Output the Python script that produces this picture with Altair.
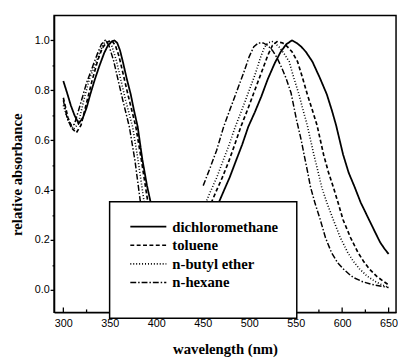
import altair as alt
import pandas as pd

solvents = ["dichloromethane", "toluene", "n-butyl ether", "n-hexane"]

# dichloromethane
dcm_b1_x = [300, 304, 308, 312, 316.5, 321, 325, 329, 334, 339, 344, 348, 352, 355, 358, 361, 364, 368, 372.5, 376, 380, 385, 390, 394]
dcm_b1_y = [0.837, 0.79, 0.74, 0.70, 0.667, 0.69, 0.73, 0.784, 0.845, 0.9, 0.95, 0.98, 0.996, 1.0, 0.99, 0.96, 0.915, 0.85, 0.784, 0.72, 0.654, 0.523, 0.418, 0.35]
dcm_b2_x = [467, 473, 479, 486, 492.5, 499, 506, 513, 520, 527.5, 534, 540, 546, 551, 556, 561, 568, 576, 583.5, 589, 593.5, 601, 607, 613.5, 620, 629, 635, 641, 646, 650]
dcm_b2_y = [0.348, 0.40, 0.451, 0.52, 0.583, 0.654, 0.712, 0.775, 0.845, 0.909, 0.955, 0.985, 1.0, 0.99, 0.975, 0.954, 0.915, 0.85, 0.784, 0.719, 0.66, 0.543, 0.47, 0.412, 0.35, 0.281, 0.235, 0.19, 0.163, 0.144]

# toluene
tol_b1_x = [300, 305, 310, 314, 319, 325, 331, 337, 342, 347, 352, 356, 360, 365, 370, 378, 384, 391]
tol_b1_y = [0.77, 0.69, 0.645, 0.63, 0.66, 0.75, 0.84, 0.92, 0.97, 0.993, 1.0, 0.98, 0.935, 0.855, 0.775, 0.654, 0.52, 0.35]
tol_b2_x = [459, 465, 471, 478, 484.5, 491, 498, 505, 513, 520, 525, 530, 536, 541, 546, 552, 557, 562.5, 568, 573, 580, 585, 590.5, 596, 601, 609, 617, 623, 629, 637, 645, 650]
tol_b2_y = [0.348, 0.40, 0.45, 0.515, 0.583, 0.654, 0.72, 0.79, 0.87, 0.94, 0.98, 0.995, 0.99, 0.975, 0.955, 0.915, 0.855, 0.784, 0.72, 0.66, 0.543, 0.475, 0.412, 0.345, 0.281, 0.21, 0.15, 0.115, 0.085, 0.055, 0.033, 0.02]

# n-butyl ether
nbe_b1_x = [300, 305, 311, 316, 322, 328, 334.5, 340, 344, 348, 352, 357, 362, 367, 374.5, 380, 387]
nbe_b1_y = [0.74, 0.68, 0.645, 0.665, 0.76, 0.845, 0.905, 0.96, 0.99, 1.0, 0.98, 0.92, 0.84, 0.76, 0.654, 0.53, 0.35]
nbe_b2_x = [453, 459, 465, 472, 478.5, 485, 492, 499, 506, 512, 516, 520, 525, 532, 537, 543, 548, 553.5, 558, 562.5, 569.5, 574, 578, 584, 590.5, 598, 606, 612, 618.5, 627, 636, 643, 650]
nbe_b2_y = [0.348, 0.40, 0.45, 0.52, 0.583, 0.654, 0.72, 0.79, 0.86, 0.93, 0.97, 0.99, 0.995, 0.975, 0.95, 0.915, 0.85, 0.784, 0.72, 0.66, 0.543, 0.475, 0.412, 0.345, 0.281, 0.21, 0.15, 0.115, 0.085, 0.055, 0.033, 0.02, 0.01]

# n-hexane
hex_b1_x = [300, 304, 308, 312, 318, 325, 332, 337, 341, 345, 349, 354, 359, 364, 371, 377, 383]
hex_b1_y = [0.76, 0.69, 0.655, 0.665, 0.74, 0.83, 0.9, 0.95, 0.985, 1.0, 0.98, 0.92, 0.84, 0.76, 0.654, 0.52, 0.35]
hex_b2_x = [450.5, 458, 465, 472.5, 480, 487, 494, 500, 505, 510, 515, 520, 525, 530, 535, 539.5, 545, 551, 556, 559, 563, 566, 571, 576.5, 582, 588.5, 595, 601, 607, 612, 622, 632, 643, 650]
hex_b2_y = [0.418, 0.49, 0.56, 0.654, 0.73, 0.80, 0.87, 0.935, 0.975, 0.99, 0.99, 0.98, 0.96, 0.93, 0.89, 0.85, 0.79, 0.68, 0.60, 0.543, 0.47, 0.412, 0.345, 0.281, 0.21, 0.15, 0.11, 0.085, 0.065, 0.05, 0.033, 0.022, 0.014, 0.01]

x_major = [300, 350, 400, 450, 500, 550, 600, 650]
x_minor = [325, 375, 425, 475, 525, 575, 625]
y_ticks = [0.0, 0.1, 0.2, 0.3, 0.4, 0.5, 0.6, 0.7, 0.8, 0.9, 1.0]

series = [
    ("dichloromethane", [(dcm_b1_x, dcm_b1_y), (dcm_b2_x, dcm_b2_y)]),
    ("toluene", [(tol_b1_x, tol_b1_y), (tol_b2_x, tol_b2_y)]),
    ("n-butyl ether", [(nbe_b1_x, nbe_b1_y), (nbe_b2_x, nbe_b2_y)]),
    ("n-hexane", [(hex_b1_x, hex_b1_y), (hex_b2_x, hex_b2_y)]),
]
rows = []
for name, bands in series:
    for bi, (xs, ys) in enumerate(bands):
        for xv, yv in zip(xs, ys):
            rows.append({"solvent": name, "band": f"{name}-{bi}", "wl": xv, "abs": yv})
df = pd.DataFrame(rows)

x_scale = alt.Scale(domain=[290, 658], nice=False, zero=False)
y_scale = alt.Scale(domain=[-0.09, 1.1], nice=False, zero=False)
x_axis = alt.Axis(
    orient="bottom", values=x_major, ticks=False, tickSize=0, labelPadding=5,
    format="d", title="wavelength (nm)", titleY=42, titleBaseline="alphabetic")

lines = alt.Chart(df).mark_line(color="black", clip=True).encode(
    x=alt.X("wl:Q", scale=x_scale, axis=x_axis),
    y=alt.Y("abs:Q", scale=y_scale, axis=alt.Axis(
        values=y_ticks,
        labelExpr="round(datum.value*10) % 2 == 0 ? format(datum.value, '.1f') : ''",
        tickSize={"condition": {"test": "round(datum.value*10) % 2 == 0", "value": 4}, "value": 2},
        labelPadding=1,
        title="relative absorbance", titleX=-38, titleY=162, titleAngle=270,
        titleAlign="center", titleBaseline="middle")),
    strokeDash=alt.StrokeDash("solvent:N", scale=alt.Scale(
        domain=solvents, range=[[1, 0], [4, 2.5], [1, 2], [6, 2, 1.5, 2]]),
        legend=alt.Legend(
            orient="none", legendX=56.7, legendY=190, title=" ", titleOrient="bottom",
            titleFontSize=8, titlePadding=2,
            fillColor="white", strokeColor="black", padding=18, rowPadding=3,
            symbolType="M-3,0H3", symbolSize=150, symbolStrokeWidth=1.5,
            symbolStrokeColor="black", symbolOffset=14, labelOffset=17,
            labelFont="Liberation Serif", labelFontWeight="bold", labelFontSize=15,
            labelColor="black")),
    strokeWidth=alt.StrokeWidth("solvent:N", scale=alt.Scale(
        domain=solvents, range=[1.8, 1.5, 1.5, 1.5]), legend=None),
    detail="band:N",
)

# inward-pointing x ticks along the bottom axis
major_ticks = alt.Chart(pd.DataFrame({"wl": x_major})).mark_rule(
    color="black", strokeWidth=1.3).encode(
    x=alt.X("wl:Q", scale=x_scale, axis=x_axis),
    y=alt.value(303), y2=alt.value(298),
)
minor_ticks = alt.Chart(pd.DataFrame({"wl": x_minor})).mark_rule(
    color="black", strokeWidth=1.3).encode(
    x=alt.X("wl:Q", scale=x_scale, axis=x_axis),
    y=alt.value(303), y2=alt.value(300),
)

chart = alt.layer(lines, major_ticks, minor_ticks).properties(
    width=349, height=303,
    autosize=alt.AutoSizeParams(type="none"),
    padding={"left": 47, "top": 4, "right": 2, "bottom": 46},
).configure_view(stroke="black", strokeWidth=1.5).configure_axis(
    grid=False, domainColor="black", domainWidth=1.5, tickColor="black", tickWidth=1.3,
    labelColor="black", labelFont="Liberation Sans", labelFontSize=11,
    titleFont="Liberation Serif", titleFontSize=15, titleFontWeight="bold", titleColor="black",
).configure_legend(strokeWidth=1.5)

chart.save("out.html", embed_options={"renderer": "svg", "actions": False})
